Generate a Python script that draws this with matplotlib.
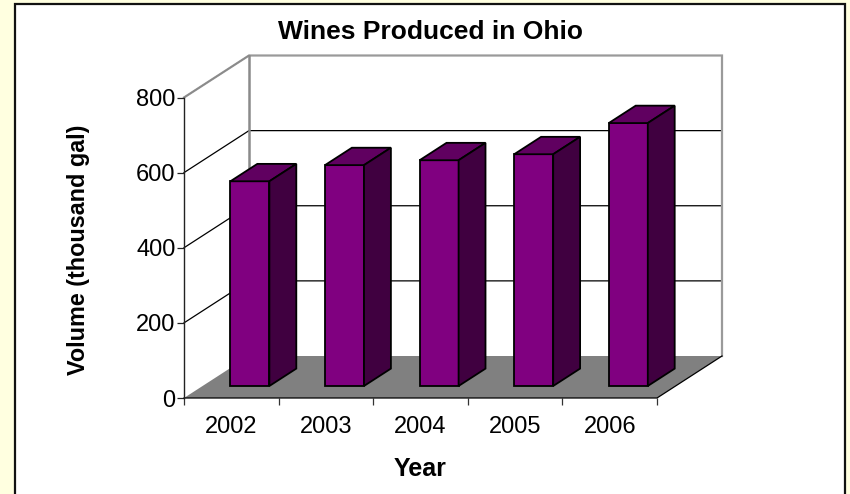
import matplotlib
matplotlib.use("Agg")
import matplotlib.pyplot as plt
from matplotlib.patches import Polygon, Rectangle

plt.rcParams['font.family'] = ['Liberation Sans', 'DejaVu Sans']

years = ['2002', '2003', '2004', '2005', '2006']
volumes = [545, 588, 601, 617, 700]
value_ticks = [0, 200, 400, 600, 800]
title = 'Wines Produced in Ohio'
xlabel = 'Year'
ylabel = 'Volume (thousand gal)'

FRONT = '#800080'
TOP = '#600060'
SIDE = '#400040'
FLOOR = '#808080'
WALL = '#9a9a9a'
PAGE = '#ffffe0'

W, H = 850, 494
fig = plt.figure(figsize=(W / 100, H / 100), dpi=100, facecolor=PAGE)

# white panel (runs off the bottom edge)
fig.add_artist(Rectangle((15 / W, -0.02), 830 / W, 1.02 - 4 / H, transform=fig.transFigure,
                         facecolor='white', edgecolor='#111111', linewidth=1.6, zorder=-1))

L, R, T, B = 184, 657, 97.5, 398
ax = fig.add_axes([L / W, 1 - B / H, (R - L) / W, (B - T) / H])
n = len(years)
ax.set_xlim(-0.5, n - 0.5)
ax.set_ylim(0, 800)
ax.patch.set_alpha(0)
for s in ax.spines.values():
    s.set_visible(False)

DX = 65 / ((R - L) / n)           # depth shift, category units
DY = 42 / ((B - T) / 800)         # depth shift, value units


def proj(cat, val, depth=0.0):
    return cat + DX * depth, val + DY * depth


def poly(points, **kw):
    ax.add_patch(Polygon([proj(*p) for p in points], closed=True, clip_on=False, **kw))


x0, x1 = -0.5, n - 0.5
vmax = value_ticks[-1]

# walls gridlines
for v in value_ticks[1:-1]:
    ax.plot(*zip(proj(x0, v, 0), proj(x0, v, 1), proj(x1, v, 1)),
            color='black', lw=0.9, clip_on=False, zorder=1)

# wall outlines
ax.plot(*zip(proj(x0, vmax, 0), proj(x0, vmax, 1), proj(x1, vmax, 1), proj(x1, 0, 1)),
        color=WALL, lw=1.6, clip_on=False, zorder=1, solid_joinstyle='miter')
ax.plot(*zip(proj(x0, 0, 1), proj(x0, vmax, 1)), color='#8a8a8a', lw=1.8, clip_on=False, zorder=1)
ax.plot(*zip(proj(x0, vmax, 0), proj(x0, vmax, 1)), color='#8a8a8a', lw=1.0, clip_on=False, zorder=1.1)

# floor
poly([(x0, 0, 0), (x1, 0, 0), (x1, 0, 1), (x0, 0, 1)], facecolor=FLOOR, edgecolor='none', zorder=2)
ax.plot(*zip(proj(x0, 0, 0), proj(x1, 0, 0), proj(x1, 0, 1)),
        color='black', lw=0.9, clip_on=False, zorder=2.1)

# front axis line
ax.plot([x0, x0], [0, vmax], color='#222222', lw=1.0, clip_on=False, zorder=2.2)

# bars
BAR_W = 39 / ((R - L) / n)
D0, D1 = 0.286, 0.70
edge = dict(edgecolor='black', linewidth=1.3, joinstyle='miter', zorder=3)
for i, v in enumerate(volumes):
    a, b = i - BAR_W / 2, i + BAR_W / 2
    poly([(a, 0, D0), (b, 0, D0), (b, v, D0), (a, v, D0)], facecolor=FRONT, **edge)
    poly([(a, v, D0), (b, v, D0), (b, v, D1), (a, v, D1)], facecolor=TOP, **edge)
    poly([(b, 0, D0), (b, 0, D1), (b, v, D1), (b, v, D0)], facecolor=SIDE, **edge)

# ticks
ax.set_yticks(value_ticks)
ax.tick_params(axis='y', length=5, width=0.9, color='#222222', labelsize=17, pad=1, labelcolor='black')
ax.set_xticks([i - 0.5 for i in range(n + 1)])
ax.set_xticklabels([])
ax.tick_params(axis='x', which='major', length=5, width=0.9, color='#333333')
ax.set_xticks(range(n), minor=True)
ax.set_xticklabels(years, minor=True)
ax.tick_params(axis='x', which='minor', length=0, labelsize=17, pad=13, labelcolor='black')

fig.text(430 / W, 1 - 32 / H, title, ha='center', va='center', fontsize=19, fontweight='bold')
fig.text(420 / W, 1 - 469 / H, xlabel, ha='center', va='center', fontsize=18, fontweight='bold')
fig.text(78 / W, 1 - 250 / H, ylabel, ha='center', va='center', rotation=90,
         fontsize=16.8, fontweight='bold')

fig.savefig('out.png', dpi=100, facecolor=PAGE)
